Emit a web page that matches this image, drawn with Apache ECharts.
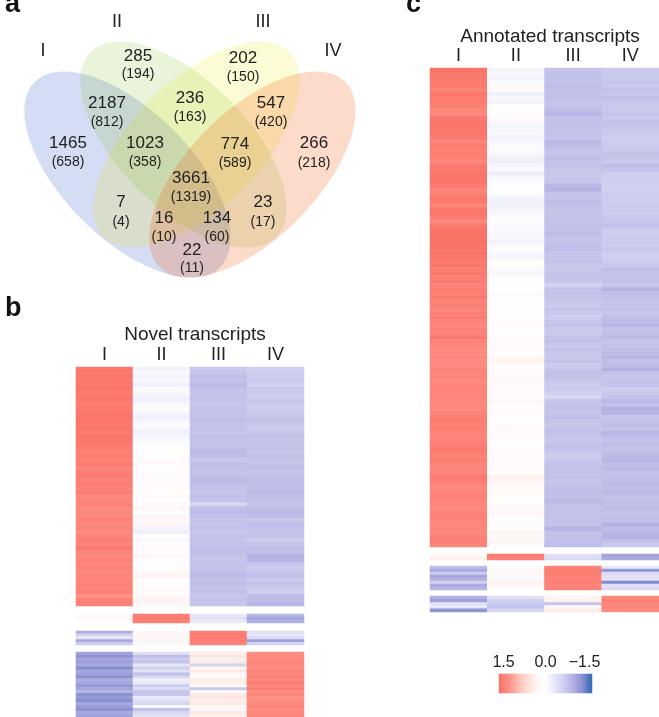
<!DOCTYPE html>
<html><head><meta charset="utf-8">
<style>html,body{margin:0;padding:0;background:#fff;overflow:hidden}#c{width:659px;height:717px;filter:blur(0.45px)}</style>
<script src="https://cdn.jsdelivr.net/npm/echarts@6/dist/echarts.min.js"></script>
</head><body><div id="c"></div>
<script>
const conditions = ['I','II','III','IV'];
const vennSets = ['I','II','III','IV'];
const vennTotals = ['1465','285','202','2187','236','547','1023','774','266','3661','7','16','134','23','22'];
const vennNovel = ['(658)','(194)','(150)','(812)','(163)','(420)','(358)','(589)','(218)','(1319)','(4)','(10)','(60)','(17)','(11)'];
const vennTotalAt = [[68,143],[138,56],[243,58],[107,103],[190,98],[271,103],[145,143],[235,144],[314,143],[191,178],[121,202],[164,218],[217,218],[263,202],[192,250]];
const vennNovelAt = [[68,162],[138,74],[243,77],[107,122],[190,117],[271,122],[145,162],[235,163],[314,163],[191,197],[121,222],[164,237],[217,237],[263,222],[192,268]];
const vennSetAt = [[43,51],[117,22],[263,22],[333,51]];
const vennEllipses = [[127.5,174.5,131,64,-45],[183.5,144.5,131,64,-45],[196.5,144.5,131,64,45],[252.5,174.5,131,64,45]];
const vennColors = ['rgba(0,49,191,0.165)','rgba(104,180,0,0.145)','rgba(232,232,0,0.165)','rgba(246,79,0,0.205)'];

// z-scores x100
const b1I = [136,134,138,132,136,140,130,136,134,128, 132,138,140,136,134,138,132,140,136,134, 130,126,132,128,134,124,130,134,128,132, 126,130,120,124,128,118,122,120,126,118, 122,116,124,128,120,134,122,118,126,120, 124,118,122,120,126,122,128,110,124,128];
const b1II = [-12,-6,-10,-8,-14,-4,-8,-12,-14,-8, -2,-6,-14,-10,-4,-8,-14,-10,-6,-2, 4,2,-2,8,6,3,2,6,-2,4, 8,2,6,0,4,10,2,-8,6,12, -10,-14,0,-6,-2,6,2,10,-4,2, -2,6,14,4,-2,6,3,8,14,-8];
const b1III = [-52,-54,-62,-58,-66,-60,-54,-58,-56,-54, -60,-58,-56,-62,-56,-58,-54,-60,-58,-56, -62,-66,-60,-54,-62,-60,-58,-62,-66,-64, -58,-54,-60,-58,-38,-62,-66,-60,-56,-54, -60,-52,-56,-54,-58,-60,-62,-56,-54,-58, -56,-60,-66,-58,-62,-56,-60,-52,-56,-54];
const b1IV = [-44,-46,-48,-50,-44,-52,-50,-46,-52,-48, -46,-50,-54,-56,-52,-50,-54,-60,-56,-54, -58,-54,-60,-56,-58,-62,-56,-60,-64,-62, -60,-66,-64,-60,-58,-62,-66,-64,-52,-60, -58,-54,-56,-48,-54,-62,-60,-72,-70,-58, -48,-54,-60,-50,-56,-50,-44,-62,-64,-70];
const b2I = [6,12,2]; const b2II = [128,132,126]; const b2III = [-22,-28,-20]; const b2IV = [-70,-88,-78];
const b3I = [-80,-42,-24,-85,-48]; const b3II = [12,-8,14,-8,10]; const b3III = [128,132,134,130,126]; const b3IV = [-28,-24,-36,-95,-42];
const b4I = [-92,-106,-86,-96,-84,-112,-90,-94,-110,-82, -90,-104,-88,-72,-108,-100,-112,-86,-98,-108, -84,-92];
const b4II = [-28,-62,-48,-56,-22,-44,-26,-60,-38,-14, -20,-46,-34,-56,-52,-22,-30,-40,-8,-60, -38,-28];
const b4III = [22,30,18,24,-42,12,26,8,6,24, 18,8,-50,-4,26,34,18,28,12,-6, 26,18];
const b4IV = [112,118,116,122,118,112,124,116,128,120, 132,122,128,114,122,110,116,118,124,112, 118,122];

const c1I = [138,136,133,130,134,122,135,132,130,127, 118,116,133,137,140,136,138,133,121,134, 124,130,128,118,132,134,137,139,140,134, 121,124,136,134,120,136,138,130,117,133, 140,142,141,143,140,138,142,139,136,141, 130,136,128,134,126,132,128,136,126,130, 122,128,132,125,120,128,124,134,125,121, 119,117,120,116,119,124,118,122,115,120, 124,120,121,118,120,117,122,128,130,126, 127,122,120,124,130,133,128,124,130,122, 119,124,132,128,120,118,122,126,120,121, 117,123,126,119,120,122,118,125,127,121];
const c1II = [-10,-8,-12,-6,-4,8,-14,-6,-12,0, 4,-2,6,-6,-10,-8,-6,-12,-10,-4, 6,-8,-12,-14,-10,-6,-16,-8,-4,-3, 0,-2,-10,-14,-12,-10,-8,-3,6,-6, -4,-6,-8,-12,-6,-3,-8,-10,-3,0, -6,-8,-2,0,-2,0,-4,2,0,-2, 3,5,2,6,4,1,3,6,3,6, 4,2,10,14,8,4,6,8,10,6, 8,5,3,10,6,3,8,5,2,4, 8,6,3,1,-2,4,8,3,6,9, 3,5,16,12,7,4,8,5,3,6, 8,12,4,3,5,2,10,8,12,-4];
const c1III = [-56,-58,-60,-58,-62,-60,-58,-60,-56,-58, -62,-70,-58,-58,-60,-56,-58,-54,-68,-64, -58,-54,-62,-58,-56,-54,-52,-52,-54,-68, -72,-58,-54,-62,-60,-56,-54,-60,-56,-58, -60,-64,-58,-56,-60,-62,-56,-58,-60,-54, -52,-56,-58,-54,-42,-58,-60,-56,-54,-50, -56,-52,-48,-54,-58,-52,-50,-56,-60,-52, -58,-54,-52,-58,-50,-54,-60,-56,-52,-48, -50,-44,-38,-52,-56,-58,-54,-60,-56,-52, -56,-58,-54,-52,-56,-58,-50,-48,-54,-56, -60,-56,-58,-54,-56,-60,-62,-58,-66,-60, -58,-56,-60,-56,-58,-72,-56,-58,-60,-62];
const c1IV = [-50,-52,-50,-54,-52,-56,-52,-60,-54,-52, -50,-54,-52,-60,-56,-52,-50,-46,-48,-50, -52,-56,-54,-50,-62,-56,-48,-46,-46,-44, -44,-46,-48,-46,-50,-48,-46,-52,-54,-60, -48,-46,-50,-48,-46,-52,-48,-44,-50,-52, -62,-58,-56,-58,-54,-72,-64,-60,-56,-58, -60,-54,-62,-66,-70,-58,-62,-68,-56,-60, -62,-66,-70,-60,-64,-74,-60,-52,-56,-58, -46,-52,-56,-68,-60,-74,-72,-54,-60,-62, -56,-70,-60,-58,-64,-56,-62,-68,-70,-60, -66,-58,-60,-62,-64,-60,-66,-58,-62,-60, -64,-56,-62,-60,-74,-62,-70,-72,-60,-50];
const c2I = [8,18]; const c2II = [132,126]; const c2III = [-28,-34]; const c2IV = [-92,-82];
const c3I = [-62,-84,-48,-86,-78,-44,-82,-70]; const c3II = [-4,12,6,-4,8,14,10,4]; const c3III = [122,130,128,124,126,128,122,124]; const c3IV = [-22,-105,-34,-30,-26,-115,-30,-36];
const c4I = [-78,-95,-30,-22,-105]; const c4II = [-30,-44,-52,-60,-40]; const c4III = [14,18,-55,10,24]; const c4IV = [118,128,122,126,112];

const scaleValues = [140,128,116,108,96,84,72,62,52,42,32,22,14,8,3,0,-6,-14,-22,-30,-36,-44,-52,-62,-72,-84,-96,-106,-120,-136,-150];
const scaleTicks = {1:'1.5',15:'0.0',28:'−1.5'};
const heatColors = ['#3f6fb8','#9a9ad8','#cacaee','#ffffff','#fdd7cd','#ff9a8f','#f96a5e'];

const grids=[], xAxes=[], yAxes=[], series=[], heatIdx=[];
const labelColor='#222';
function block(left,top,width,height,cols,head){
  const g=grids.length, n=cols[0].length, rows=[...Array(n).keys()], d=[];
  grids.push({left,top,width,height});
  xAxes.push({type:'category',gridIndex:g,data:conditions,position:'top',axisLine:{show:false},axisTick:{show:false},
    axisLabel:{show:!!head,color:labelColor,fontSize:18,fontFamily:'Liberation Sans',margin:3,interval:0}});
  yAxes.push({type:'category',gridIndex:g,data:rows,inverse:true,show:false});
  cols.forEach((c,i)=>c.forEach((v,r)=>d.push([i,r,v])));
  heatIdx.push(series.length);
  series.push({type:'heatmap',xAxisIndex:g,yAxisIndex:g,data:d,silent:true,progressive:0,animation:false});
}
block(76,367,228,239,[b1I,b1II,b1III,b1IV],true);
block(76,614,228,9,[b2I,b2II,b2III,b2IV]);
block(76,631,228,14,[b3I,b3II,b3III,b3IV]);
block(76,652,228,66,[b4I,b4II,b4III,b4IV]);
block(430,68,229,479,[c1I,c1II,c1III,c1IV],true);
block(430,554,229,6,[c2I,c2II,c2III,c2IV]);
block(430,566,229,24,[c3I,c3II,c3III,c3IV]);
block(430,596,229,16,[c4I,c4II,c4III,c4IV]);

// colour scale
{
  const g=grids.length, cats=scaleValues.map((_,i)=>i);
  grids.push({left:499,top:674,width:93,height:19});
  const tickShow=i=>i===0||i===cats.length-1;
  xAxes.push({type:'category',gridIndex:g,data:cats,position:'top',axisLine:{show:false},
    axisTick:{show:true,inside:true,length:4,alignWithLabel:true,interval:tickShow,lineStyle:{color:'#fff'}},
    axisLabel:{show:true,interval:i=>i in scaleTicks,formatter:(v)=>scaleTicks[v]||'',color:labelColor,fontSize:16,fontFamily:'Liberation Sans',margin:3}});
  yAxes.push({type:'category',gridIndex:g,data:['z'],show:false});
  heatIdx.push(series.length);
  series.push({type:'heatmap',xAxisIndex:g,yAxisIndex:g,data:scaleValues.map((v,i)=>[i,0,v]),silent:true,progressive:0,animation:false,z:1});
}
// Venn frame
const vg=grids.length;
grids.push({left:0,top:0,width:370,height:290});
xAxes.push({type:'value',gridIndex:vg,min:0,max:370,show:false});
yAxes.push({type:'value',gridIndex:vg,min:0,max:290,inverse:true,show:false});
series.push({type:'custom',xAxisIndex:vg,yAxisIndex:vg,silent:true,animation:false,clip:false,
  data:vennEllipses,
  renderItem:(p,api)=>{
    const pt=api.coord([api.value(0),api.value(1)]);
    return {type:'ellipse',x:pt[0],y:pt[1],rotation:api.value(4)*Math.PI/180,
      shape:{cx:0,cy:0,rx:api.value(2),ry:api.value(3)},style:{fill:vennColors[p.dataIndex]}};
  },encode:{x:0,y:1}});
function vennText(names,at,size){
  series.push({type:'scatter',xAxisIndex:vg,yAxisIndex:vg,silent:true,animation:false,symbolSize:0,z:5,itemStyle:{opacity:1},
    data:names.map((t,i)=>({name:t,value:at[i]})),
    label:{show:true,position:'inside',formatter:'{b}',color:labelColor,fontSize:size,fontFamily:'Liberation Sans'}});
}
vennText(vennSets,vennSetAt,18);
vennText(vennTotals,vennTotalAt,17);
vennText(vennNovel,vennNovelAt,14);

const font='Liberation Sans';
const option={
  animation:false,backgroundColor:'#fff',
  title:[
    {text:'a',left:0,top:-14,textStyle:{fontSize:27,fontWeight:'bold',color:'#111',fontFamily:font}},
    {text:'b',left:0,top:290,textStyle:{fontSize:27,fontWeight:'bold',color:'#111',fontFamily:font}},
    {text:'c',left:401,top:-14,textStyle:{fontSize:27,fontWeight:'bold',color:'#111',fontFamily:font}},
    {text:'Novel transcripts',left:190,top:320,textAlign:'center',textStyle:{fontSize:19,fontWeight:'normal',color:labelColor,fontFamily:font}},
    {text:'Annotated transcripts',left:545,top:22,textAlign:'center',textStyle:{fontSize:19,fontWeight:'normal',color:labelColor,fontFamily:font}}
  ],
  grid:grids,xAxis:xAxes,yAxis:yAxes,
  visualMap:{type:'continuous',show:false,min:-150,max:150,dimension:2,seriesIndex:heatIdx,inRange:{color:heatColors}},
  series
};
echarts.init(document.getElementById('c'),null,{renderer:'canvas'}).setOption(option);
</script></body></html>
